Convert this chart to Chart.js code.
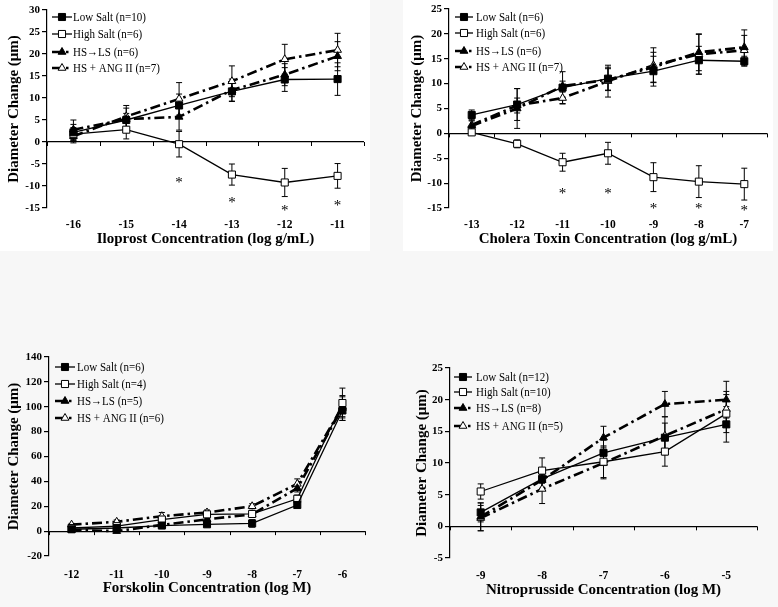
<!DOCTYPE html>
<html><head><meta charset="utf-8">
<script src="https://cdn.jsdelivr.net/npm/chart.js@4"></script>
<style>
html,body{margin:0;padding:0;background:#f7f7f7;width:778px;height:607px;overflow:hidden}
.p{position:absolute}
canvas{display:block}
</style></head><body>
<div class="p" style="left:0;top:0;width:370px;height:251px;background:#fff"><canvas id="c1" width="370" height="251"></canvas></div>
<div class="p" style="left:403px;top:0;width:370px;height:251px;background:#fff"><canvas id="c2" width="370" height="251"></canvas></div>
<div class="p" style="left:0;top:330px;width:371px;height:277px"><canvas id="c3" width="371" height="277"></canvas></div>
<div class="p" style="left:408px;top:330px;width:355px;height:277px"><canvas id="c4" width="355" height="277"></canvas></div>
<script>
// ---------- DATA ----------
const seriesNames1 = ['Low Salt (n=10)', 'High Salt (n=6)', 'HS\u2192LS (n=6)', 'HS + ANG II (n=7)'];
const iloLabels = ['-16', '-15', '-14', '-13', '-12', '-11'];
const iloLow = [2.2, 5.0, 8.3, 11.5, 14.2, 14.3];
const iloLowErr = [1.8, 1.5, 2.6, 2.3, 2.7, 3.7];
const iloHigh = [1.8, 2.8, -0.5, -7.4, -9.2, -7.7];
const iloHighErr = [1.5, 2.1, 2.9, 2.4, 3.2, 2.8];
const iloHSLS = [2.8, 5.2, 5.7, 11.8, 15.3, 19.5];
const iloHSLSErr = [2.2, 2.5, 3.0, 2.5, 2.5, 3.3];
const iloANG = [1.3, 5.8, 9.8, 13.8, 18.8, 20.9];
const iloANGErr = [1.5, 2.5, 3.7, 3.5, 3.4, 3.8];
const iloStars = [null, null, -8.6, -13.1, -15.1, -13.9];

const seriesNames2 = ['Low Salt (n=6)', 'High Salt (n=6)', 'HS\u2192LS (n=6)', 'HS + ANG II (n=7)'];
const chLabels = ['-13', '-12', '-11', '-10', '-9', '-8', '-7'];
const chLow = [3.7, 5.8, 9.2, 11.0, 12.5, 14.7, 14.5];
const chLowErr = [1.0, 3.2, 3.2, 2.3, 3.0, 2.8, 1.0];
const chHigh = [0.2, -2.1, -5.8, -4.0, -8.8, -9.7, -10.2];
const chHighErr = [0.6, 0.8, 1.8, 2.2, 2.9, 3.2, 3.2];
const chHSLS = [1.5, 5.0, 9.5, 10.8, 13.3, 16.3, 17.3];
const chHSLSErr = [1.0, 4.0, 1.0, 2.2, 3.0, 3.7, 3.5];
const chANG = [1.7, 5.6, 7.1, 10.5, 13.7, 15.9, 16.7];
const chANGErr = [1.0, 1.5, 1.2, 3.2, 3.5, 4.0, 3.0];
const chStars = [null, null, -11.5, -11.5, -14.5, -14.5, -15.1];

const seriesNames3 = ['Low Salt (n=6)', 'High Salt (n=4)', 'HS\u2192LS (n=5)', 'HS + ANG II (n=6)'];
const fLabels = ['-12', '-11', '-10', '-9', '-8', '-7', '-6'];
const fLow = [1.5, 2.5, 4.5, 5.5, 6.2, 21, 97];
const fLowErr = [1, 1, 1.5, 2, 3, 2, 8];
const fHigh = [2.5, 4.0, 9.3, 13.5, 13.8, 26, 103];
const fHighErr = [1, 1.5, 2, 2, 2, 3, 12];
const fHSLS = [1.0, 0.0, 5.0, 9.5, 13.5, 34.5, 99];
const fHSLSErr = [1, 1, 1.5, 2, 2, 3, 10];
const fANG = [5.2, 7.5, 12, 15, 20, 38, 100];
const fANGErr = [1, 1.5, 3, 2, 2, 4, 8];
const fStars = [null, null, null, null, null, null, null];

const seriesNames4 = ['Low Salt (n=12)', 'High Salt (n=10)', 'HS\u2192LS (n=8)', 'HS + ANG II (n=5)'];
const nLabels = ['-9', '-8', '-7', '-6', '-5'];
const nLow = [2.2, 7.5, 11.6, 14.0, 16.1];
const nLowErr = [1.5, 1.5, 2.0, 2.3, 2.8];
const nHigh = [5.5, 8.8, 10.2, 11.8, 17.8];
const nHighErr = [1.2, 2.0, 2.5, 2.3, 3.0];
const nHSLS = [1.5, 7.3, 14.0, 19.3, 20.0];
const nHSLSErr = [2.2, 1.5, 1.8, 2.0, 2.9];
const nANG = [1.3, 5.9, 10.0, 14.3, 18.5];
const nANGErr = [2.0, 2.3, 2.5, 3.0, 2.8];
const nStars = [null, null, null, null, null];

// ---------- STYLE ----------
const SERIF = "'Liberation Serif', 'Times New Roman', serif";
const styles = [
  { pointStyle: 'rect', fill: '#000', dash: [], lw: 1.3, r: 5 },
  { pointStyle: 'rect', fill: '#fff', dash: [], lw: 1.3, r: 5 },
  { pointStyle: 'triangle', fill: '#000', dash: [10, 4, 2.5, 4], lw: 2.6, r: 4.5 },
  { pointStyle: 'triangle', fill: '#fff', dash: [10, 4, 2.5, 4], lw: 2.6, r: 4.5 }
];

const panelPlugin = {
  id: 'panel',
  beforeDatasetsDraw(chart) {
    const { ctx, chartArea } = chart;
    const ys = chart.scales.y;
    const y0 = ys.getPixelForValue(0);
    const n = chart.data.labels.length;
    ctx.save();
    ctx.strokeStyle = '#000';
    ctx.lineWidth = 1;
    for (let i = 0; i <= n; i++) {
      const px = Math.round(chartArea.left + (chartArea.right - chartArea.left) * i / n) + 0.5;
      ctx.beginPath(); ctx.moveTo(px, y0); ctx.lineTo(px, y0 + 4); ctx.stroke();
    }
    chart.data.datasets.forEach((ds, di) => {
      const meta = chart.getDatasetMeta(di);
      ds.errors.forEach((e, i) => {
        if (e == null) return;
        const px = meta.data[i].x;
        const t = ys.getPixelForValue(ds.data[i] + e);
        const b = ys.getPixelForValue(ds.data[i] - e);
        ctx.beginPath();
        ctx.moveTo(px, t); ctx.lineTo(px, b);
        ctx.moveTo(px - 3, t); ctx.lineTo(px + 3, t);
        ctx.moveTo(px - 3, b); ctx.lineTo(px + 3, b);
        ctx.stroke();
      });
    });
    ctx.restore();
  },
  afterDraw(chart, args, opts) {
    const { ctx, chartArea } = chart;
    const xs = chart.scales.x, ys = chart.scales.y;
    ctx.save();
    // asterisks
    ctx.fillStyle = '#000';
    ctx.font = '15px ' + SERIF;
    ctx.textAlign = 'center';
    ctx.textBaseline = 'alphabetic';
    const m = ctx.measureText('*');
    const shift = (m.actualBoundingBoxAscent - m.actualBoundingBoxDescent) / 2;
    (opts.stars || []).forEach((v, i) => {
      if (v == null) return;
      ctx.fillText('*', xs.getPixelForValue(i), ys.getPixelForValue(v) + shift);
    });
    // legend
    const L = opts.legend;
    chart.data.datasets.forEach((ds, di) => {
      const st = styles[di];
      const yy = chartArea.top + L.ys[di];
      const x0 = chartArea.left + L.x0, x1 = chartArea.left + L.x1;
      ctx.strokeStyle = '#000';
      ctx.lineWidth = st.lw;
      ctx.setLineDash(st.dash);
      ctx.beginPath(); ctx.moveTo(x0, yy); ctx.lineTo(x1, yy); ctx.stroke();
      ctx.setLineDash([]);
      ctx.fillStyle = st.fill;
      ctx.lineWidth = 1;
      Chart.helpers.drawPoint(ctx, { pointStyle: st.pointStyle, radius: st.r, rotation: 0, borderWidth: 1 }, x0 + L.mk, yy);
      ctx.fillStyle = '#000';
      ctx.font = '11px ' + SERIF;
      ctx.textAlign = 'left';
      ctx.textBaseline = 'middle';
      ctx.save();
      ctx.translate(chartArea.left + L.tx, yy + 0.5);
      ctx.scale(1, 1.18);
      ctx.fillText(ds.label, 0, 0);
      ctx.restore();
    });
    ctx.restore();
  }
};

function makePanel(id, cfg) {
  const vals = [cfg.low, cfg.high, cfg.hsls, cfg.ang];
  const errs = [cfg.lowErr, cfg.highErr, cfg.hslsErr, cfg.angErr];
  const datasets = vals.map((v, i) => ({
    label: cfg.names[i],
    data: v,
    errors: errs[i],
    borderColor: '#000',
    borderWidth: styles[i].lw,
    borderDash: styles[i].dash,
    pointStyle: styles[i].pointStyle,
    pointRadius: styles[i].r,
    pointBackgroundColor: styles[i].fill,
    pointBorderColor: '#000',
    pointBorderWidth: 1,
    tension: 0,
    fill: false
  }));
  const g = cfg.geom;
  return new Chart(document.getElementById(id), {
    type: 'line',
    data: { labels: cfg.labels, datasets },
    options: {
      responsive: false,
      animation: false,
      devicePixelRatio: 1,
      layout: { padding: { top: g.padTop, right: g.padRight, left: 0, bottom: 0 } },
      plugins: {
        legend: { display: false },
        tooltip: { enabled: false },
        panel: { stars: cfg.stars, legend: g.legend }
      },
      scales: {
        x: {
          type: 'category',
          offset: true,
          grid: { display: false, drawTicks: false },
          border: { display: false },
          ticks: { color: '#000', font: { family: SERIF, size: 11.5, weight: 'bold' }, padding: g.tickPad, maxRotation: 0, autoSkip: false },
          title: { display: true, text: cfg.xTitle, color: '#000', font: { family: SERIF, size: 15, weight: 'bold' }, padding: { top: 0, bottom: g.titlePad } },
          afterFit: s => { s.height = g.xH; }
        },
        y: {
          min: cfg.yMin, max: cfg.yMax,
          ticks: { stepSize: cfg.step, color: '#000', font: { family: SERIF, size: 11, weight: 'bold' }, padding: 2 },
          grid: {
            color: c => (c.tick && c.tick.value === 0) ? '#000' : 'rgba(0,0,0,0)',
            lineWidth: 1.2, tickColor: '#000', tickLength: 5, drawTicks: true
          },
          border: { display: true, color: '#000', width: 1.2 },
          title: { display: true, text: 'Diameter Change (\u03bcm)', color: '#000', font: { family: SERIF, size: 15, weight: 'bold' }, padding: { top: 5, bottom: 0 } },
          afterFit: s => { s.width = g.yW; }
        }
      }
    },
    plugins: [panelPlugin]
  });
}

makePanel('c1', {
  names: seriesNames1, labels: iloLabels,
  low: iloLow, lowErr: iloLowErr, high: iloHigh, highErr: iloHighErr,
  hsls: iloHSLS, hslsErr: iloHSLSErr, ang: iloANG, angErr: iloANGErr,
  stars: iloStars, yMin: -15, yMax: 30, step: 5,
  xTitle: 'Iloprost Concentration (log g/mL)',
  geom: { padTop: 10, padRight: 1, yW: 47, xH: 43, tickPad: 10, titlePad: 2.5,
    legend: { x0: 5, x1: 25, mk: 10, tx: 26, ys: [7, 24, 42, 58] } }
});
makePanel('c2', {
  names: seriesNames2, labels: chLabels,
  low: chLow, lowErr: chLowErr, high: chHigh, highErr: chHighErr,
  hsls: chHSLS, hslsErr: chHSLSErr, ang: chANG, angErr: chANGErr,
  stars: chStars, yMin: -15, yMax: 25, step: 5,
  xTitle: 'Cholera Toxin Concentration (log g/mL)',
  geom: { padTop: 9, padRight: 1, yW: 46, xH: 43, tickPad: 10, titlePad: 2.5,
    legend: { x0: 6, x1: 24, mk: 9, tx: 27, ys: [8, 24, 42, 58] } }
});
makePanel('c3', {
  names: seriesNames3, labels: fLabels,
  low: fLow, lowErr: fLowErr, high: fHigh, highErr: fHighErr,
  hsls: fHSLS, hslsErr: fHSLSErr, ang: fANG, angErr: fANGErr,
  stars: fStars, yMin: -20, yMax: 140, step: 20,
  xTitle: 'Forskolin Concentration (log M)',
  geom: { padTop: 27, padRight: 1, yW: 49, xH: 51, tickPad: 12, titlePad: 10,
    legend: { x0: 6, x1: 26, mk: 10, tx: 28, ys: [10, 27, 44, 61] } }
});
makePanel('c4', {
  names: seriesNames4, labels: nLabels,
  low: nLow, lowErr: nLowErr, high: nHigh, highErr: nHighErr,
  hsls: nHSLS, hslsErr: nHSLSErr, ang: nANG, angErr: nANGErr,
  stars: nStars, yMin: -5, yMax: 25, step: 5,
  xTitle: 'Nitroprusside Concentration (log M)',
  geom: { padTop: 38, padRight: 1, yW: 42, xH: 49, tickPad: 11, titlePad: 8,
    legend: { x0: 4, x1: 22, mk: 9, tx: 26, ys: [9, 24, 40, 58] } }
});
</script>
</body></html>
